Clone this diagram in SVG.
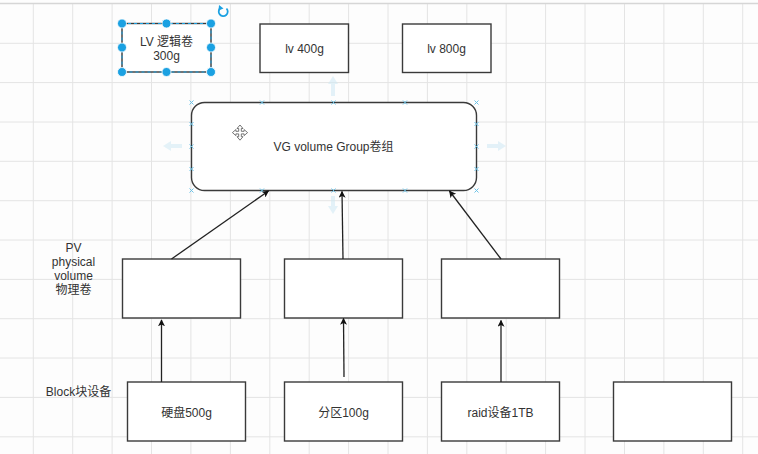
<svg xmlns="http://www.w3.org/2000/svg" width="758" height="454" viewBox="0 0 758 454">
<defs>
<style>
.box{fill:#fff;stroke:#3a3a3a;stroke-width:1.4}
.t{font-family:"Liberation Sans","Noto Sans CJK SC",sans-serif;font-size:12px;fill:#333;text-anchor:middle}
.grid line{stroke:#e4e4e4;stroke-width:1}
.conn line{stroke:#222;stroke-width:1.3;fill:none}
.h{fill:#1ba1e2;stroke:#fff;stroke-width:0.8}
.xm{stroke:#6cc3e8;stroke-width:1}
.hov{fill:#cfe9f4;opacity:0.55}
</style>
<marker id="arr" viewBox="0 0 10 10" refX="9" refY="5" markerWidth="7" markerHeight="7" markerUnits="userSpaceOnUse" orient="auto">
<path d="M0,0 L10,5 L0,10 L2.5,5 Z" fill="#111"/>
</marker>
</defs>
<rect width="758" height="454" fill="#fdfdfd"/>
<g class="grid">
<line x1="33.3" y1="4" x2="33.3" y2="454"/><line x1="72.7" y1="4" x2="72.7" y2="454"/><line x1="112.1" y1="4" x2="112.1" y2="454"/><line x1="151.5" y1="4" x2="151.5" y2="454"/><line x1="190.9" y1="4" x2="190.9" y2="454"/><line x1="230.4" y1="4" x2="230.4" y2="454"/><line x1="269.8" y1="4" x2="269.8" y2="454"/><line x1="309.2" y1="4" x2="309.2" y2="454"/><line x1="348.6" y1="4" x2="348.6" y2="454"/><line x1="388" y1="4" x2="388" y2="454"/><line x1="427.4" y1="4" x2="427.4" y2="454"/><line x1="466.8" y1="4" x2="466.8" y2="454"/><line x1="506.2" y1="4" x2="506.2" y2="454"/><line x1="545.6" y1="4" x2="545.6" y2="454"/><line x1="585" y1="4" x2="585" y2="454"/><line x1="624.5" y1="4" x2="624.5" y2="454"/><line x1="663.9" y1="4" x2="663.9" y2="454"/><line x1="703.3" y1="4" x2="703.3" y2="454"/><line x1="742.7" y1="4" x2="742.7" y2="454"/>
<line x1="0" y1="43.3" x2="758" y2="43.3"/><line x1="0" y1="82.6" x2="758" y2="82.6"/><line x1="0" y1="122" x2="758" y2="122"/><line x1="0" y1="161.3" x2="758" y2="161.3"/><line x1="0" y1="200.7" x2="758" y2="200.7"/><line x1="0" y1="240" x2="758" y2="240"/><line x1="0" y1="279.4" x2="758" y2="279.4"/><line x1="0" y1="318.7" x2="758" y2="318.7"/><line x1="0" y1="358" x2="758" y2="358"/><line x1="0" y1="397.4" x2="758" y2="397.4"/><line x1="0" y1="436.8" x2="758" y2="436.8"/>
<line x1="0" y1="3.5" x2="758" y2="3.5" style="stroke:#d6d6d6;stroke-width:1.5"/>
</g>
<!-- faint hover arrows around VG -->
<g class="hov">
<path d="M333,76 L338,84 L335,84 L335,96 L331,96 L331,84 L328,84 Z"/>
<path d="M333,214 L338,206 L335,206 L335,196 L331,196 L331,206 L328,206 Z"/>
<path d="M163,146 L171,141 L171,144 L182,144 L182,148 L171,148 L171,151 Z"/>
<path d="M506,146 L498,141 L498,144 L487,144 L487,148 L498,148 L498,151 Z"/>
</g>
<g id="lv300">
<rect class="box" x="122" y="23.5" width="89" height="48.5"/>
<rect x="122" y="23.5" width="89" height="48.5" fill="none" stroke="#1ba1e2" stroke-width="1" stroke-dasharray="3,3"/>
<text class="t" x="166.5" y="46">LV 逻辑卷</text>
<text class="t" x="166.5" y="60">300g</text>
<circle class="h" cx="122" cy="23.5" r="4.5"/><circle class="h" cx="166.5" cy="23.5" r="4.5"/><circle class="h" cx="211" cy="23.5" r="4.5"/>
<circle class="h" cx="122" cy="47.5" r="4.5"/><circle class="h" cx="211" cy="47.5" r="4.5"/>
<circle class="h" cx="122" cy="72" r="4.5"/><circle class="h" cx="166.5" cy="72" r="4.5"/><circle class="h" cx="211" cy="72" r="4.5"/>
<path d="M226.5,8.5 A4.5,4.5 0 1 1 220.5,8" fill="none" stroke="#1ba1e2" stroke-width="1.8"/>
<path d="M219,5 L223.5,8.5 L218.5,10.5 Z" fill="#1ba1e2"/>
</g>
<g id="lv400">
<rect class="box" x="260" y="24" width="88.5" height="48.5"/>
<text class="t" x="304.5" y="53">lv 400g</text>
</g>
<g id="lv800">
<rect class="box" x="402.5" y="24" width="88.5" height="48.5"/>
<text class="t" x="446.5" y="53">lv 800g</text>
</g>
<g id="vg">
<rect class="box" x="191.5" y="102.5" width="285" height="88" rx="13" ry="13"/>
<text class="t" x="333.5" y="151">VG volume Group卷组</text>
<g class="xm">
<path d="M189.5,100.5l4,4m0,-4l-4,4 M474.5,100.5l4,4m0,-4l-4,4 M189.5,188.5l4,4m0,-4l-4,4 M474.5,188.5l4,4m0,-4l-4,4"/>
<path d="M260,100.5l4,4m0,-4l-4,4 M331.5,100.5l4,4m0,-4l-4,4 M403,100.5l4,4m0,-4l-4,4"/>
<path d="M260,188.5l4,4m0,-4l-4,4 M331.5,188.5l4,4m0,-4l-4,4 M403,188.5l4,4m0,-4l-4,4"/>
<path d="M189.5,122l4,4m0,-4l-4,4 M189.5,144.5l4,4m0,-4l-4,4 M189.5,167l4,4m0,-4l-4,4"/>
<path d="M474.5,122l4,4m0,-4l-4,4 M474.5,144.5l4,4m0,-4l-4,4 M474.5,167l4,4m0,-4l-4,4"/>
</g>
<g fill="#fff" stroke="#666" stroke-width="0.9">
<path d="M240,125 L243,128.5 L241.3,128.5 L241.3,131.3 L244.1,131.3 L244.1,129.6 L247.6,132.6 L244.1,135.6 L244.1,133.9 L241.3,133.9 L241.3,136.7 L243,136.7 L240,140.2 L237,136.7 L238.7,136.7 L238.7,133.9 L235.9,133.9 L235.9,135.6 L232.4,132.6 L235.9,129.6 L235.9,131.3 L238.7,131.3 L238.7,128.5 L237,128.5 Z"/>
</g>
</g>
<g id="pv1"><rect class="box" x="122.5" y="259" width="118" height="59"/></g>
<g id="pv2"><rect class="box" x="284.5" y="259" width="118" height="59"/></g>
<g id="pv3"><rect class="box" x="441.5" y="259" width="118" height="59"/></g>
<g id="pvlabel">
<text class="t" x="73.5" y="251.5">PV</text>
<text class="t" x="73.5" y="266">physical</text>
<text class="t" x="73.5" y="280">volume</text>
<text class="t" x="73.5" y="294">物理卷</text>
</g>
<g id="blocklabel"><text class="t" x="78.5" y="396">Block块设备</text></g>
<g id="disk"><rect class="box" x="127.5" y="382" width="118" height="59"/><text class="t" x="186.5" y="416.5">硬盘500g</text></g>
<g id="part"><rect class="box" x="284.5" y="382" width="118" height="59"/><text class="t" x="343.5" y="416.5">分区100g</text></g>
<g id="raid"><rect class="box" x="441.5" y="382" width="118" height="59"/><text class="t" x="500.5" y="416.5">raid设备1TB</text></g>
<g id="empty"><rect class="box" x="613.5" y="382" width="118" height="59"/></g>
<g class="conn">
<line x1="171.5" y1="259" x2="268.5" y2="191" marker-end="url(#arr)"/>
<line x1="343" y1="259" x2="342" y2="191.5" marker-end="url(#arr)"/>
<line x1="501" y1="259" x2="449.5" y2="191" marker-end="url(#arr)"/>
<line x1="161.5" y1="382" x2="161.5" y2="320" marker-end="url(#arr)"/>
<line x1="344" y1="377" x2="343.5" y2="318.5" marker-end="url(#arr)"/>
<line x1="501" y1="382" x2="501" y2="320.5" marker-end="url(#arr)"/>
</g>
</svg>
